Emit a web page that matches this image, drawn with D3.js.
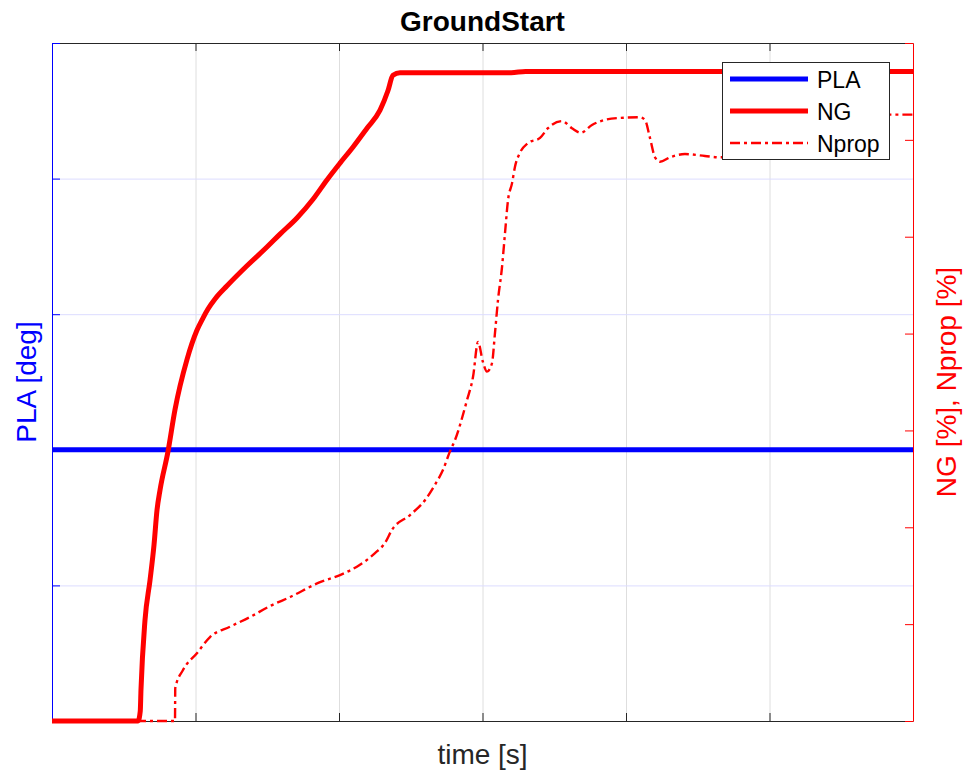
<!DOCTYPE html>
<html>
<head>
<meta charset="utf-8">
<script src="https://cdn.jsdelivr.net/npm/d3@7"></script>
<style>
  body{margin:0;background:#fff;}
  svg{display:block;font-family:"Liberation Sans",Arial,sans-serif;}
</style>
</head>
<body>
<div id="chart"></div>
<script>
// time axis (s) and tick values
const xTicks=[10,20,30,40,50];
const leftTicks=[0,20,40,60,80,100];
const rightTicks=[0,15,30,45,60,75,90,105];
const gridLeft=[20,40,60,80];

// PLA [deg]
const plaTime=[0,60];
const plaValue=[40,40];

// NG [%]
const ngTime=[0,6.0,6.15,6.2,6.48,6.83,7.11,7.32,7.53,8.08,8.57,9.41,10.1,10.52,10.87,11.36,12.2,13.59,14.98,15.89,17.07,18.19,19.16,20.07,20.98,21.95,22.86,23.41,23.76,24.25,32,33,60];
const ngValue=[0,0,1.5,4.8,15.6,21.8,27.3,32.7,35.8,41.7,48.2,56.0,60.5,62.4,63.8,65.35,67.4,70.5,73.4,75.4,77.9,80.8,83.8,86.4,88.9,91.8,94.6,97.6,100.0,100.4,100.4,100.6,100.6];

// Nprop [%]
const npTime=[0,8.57,8.59,9.13,10.1,11.01,12.4,13.8,15.19,16.59,18.68,20.07,21.46,22.51,23.21,23.69,24.95,25.99,26.69,27.25,27.74,28.08,28.92,29.34,29.69,30.03,30.31,30.66,30.87,31.08,31.36,31.57,31.78,32.06,32.26,32.61,33.17,34.01,34.56,35.54,36.23,36.86,37.63,38.54,39.58,40.97,41.32,41.67,42.02,42.37,43.07,44.11,45.5,46.55,50.73,52.13,53.17,54.22,58.4,60];
const npValue=[0,0,5.1,7.9,10.5,13.0,14.6,16.1,17.8,19.2,21.5,22.6,24.2,26.0,27.6,29.6,31.9,34.2,36.6,38.9,41.8,43.5,49.7,53.3,58.7,55.6,54.1,55.4,60.1,65.2,70.3,75.6,80.7,83.3,85.8,88.0,89.5,90.3,91.8,92.9,91.8,91.1,92.3,93.1,93.4,93.5,93.1,90.3,87.3,86.6,87.3,87.8,87.5,87.3,87.3,87.3,93.4,93.9,93.9,93.9];

const seriesNames=["PLA","NG","Nprop"];

const W=965,H=771;
const m={top:43,left:52},w=861,h=678;
const svg=d3.select("#chart").append("svg").attr("width",W).attr("height",H);
const g=svg.append("g").attr("transform",`translate(${m.left},${m.top})`);

const x=d3.scaleLinear().domain([0,60]).range([0,w]);
const yL=d3.scaleLinear().domain([0,100]).range([h,0]);
const yR=d3.scaleLinear().domain([0,105]).range([h,0]);

// grid
g.append("g").attr("transform",`translate(0,${h})`)
  .call(d3.axisBottom(x).tickValues(xTicks).tickSize(-h).tickFormat(""))
  .call(s=>s.select(".domain").remove())
  .call(s=>s.selectAll("line").attr("stroke","#dedede"));
g.append("g")
  .call(d3.axisLeft(yL).tickValues(gridLeft).tickSize(-w).tickFormat(""))
  .call(s=>s.select(".domain").remove())
  .call(s=>s.selectAll("line").attr("stroke","#dcdcff"));

// box axes
g.append("g")
  .call(d3.axisTop(x).tickValues(xTicks).tickSize(-8).tickSizeOuter(0).tickFormat(""))
  .call(s=>s.selectAll("line,path").attr("stroke","#262626"));
g.append("g").attr("transform",`translate(0,${h})`)
  .call(d3.axisBottom(x).tickValues(xTicks).tickSize(-8).tickSizeOuter(0).tickFormat(""))
  .call(s=>s.selectAll("line,path").attr("stroke","#262626"));
g.append("g")
  .call(d3.axisLeft(yL).tickValues(leftTicks).tickSize(-8).tickSizeOuter(0).tickFormat(""))
  .call(s=>s.selectAll("line,path").attr("stroke","#0000ff"));
g.append("g").attr("transform",`translate(${w},0)`)
  .call(d3.axisRight(yR).tickValues(rightTicks).tickSize(-8).tickSizeOuter(0).tickFormat(""))
  .call(s=>s.selectAll("line,path").attr("stroke","#ff0000"));

// data
const pla=plaTime.map((t,i)=>[t,plaValue[i]]);
const ng=ngTime.map((t,i)=>[t,ngValue[i]]);
const np=npTime.map((t,i)=>[t,npValue[i]]);
const lineL=d3.line().x(d=>x(d[0])).y(d=>yL(d[1]));
const lineR=d3.line().x(d=>x(d[0])).y(d=>yR(d[1])).curve(d3.curveMonotoneX);
g.append("path").datum(pla).attr("d",lineL).attr("fill","none").attr("stroke","#0000ff").attr("stroke-width",5);
g.append("path").datum(np).attr("d",lineR).attr("fill","none").attr("stroke","#ff0000").attr("stroke-width",2.4)
  .attr("stroke-dasharray","10 4 3 4").attr("stroke-linejoin","round");
g.append("path").datum(ng).attr("d",lineR).attr("fill","none").attr("stroke","#ff0000").attr("stroke-width",5)
  .attr("stroke-linejoin","round");

// labels
svg.append("text").attr("x",482.5).attr("y",31).attr("text-anchor","middle")
  .attr("font-size",28).attr("font-weight","bold").attr("fill","#000").text("GroundStart");
svg.append("text").attr("x",482.5).attr("y",764).attr("text-anchor","middle")
  .attr("font-size",28).attr("fill","#262626").text("time [s]");
svg.append("text").attr("transform","translate(36,382) rotate(-90)").attr("text-anchor","middle")
  .attr("font-size",28).attr("fill","#0000ff").text("PLA [deg]");
svg.append("text").attr("transform","translate(956,382) rotate(-90)").attr("text-anchor","middle")
  .attr("font-size",28).attr("fill","#ff0000").text("NG [%], Nprop [%]");

// legend
const lg=svg.append("g").attr("transform","translate(722,62)");
lg.append("rect").attr("x",0.5).attr("y",0.5).attr("width",167).attr("height",97)
  .attr("fill","#fff").attr("stroke","#262626");
const styles=[{c:"#0000ff",w:5,d:null},{c:"#ff0000",w:5,d:null},{c:"#ff0000",w:2.4,d:"10 4 3 4"}];
seriesNames.forEach((n,i)=>{
  const yy=17+i*32;
  lg.append("line").attr("x1",8).attr("x2",86).attr("y1",yy).attr("y2",yy)
    .attr("stroke",styles[i].c).attr("stroke-width",styles[i].w).attr("stroke-dasharray",styles[i].d);
  lg.append("text").attr("x",95).attr("y",yy+9).attr("font-size",23).attr("fill","#000").text(n);
});
</script>
</body>
</html>
